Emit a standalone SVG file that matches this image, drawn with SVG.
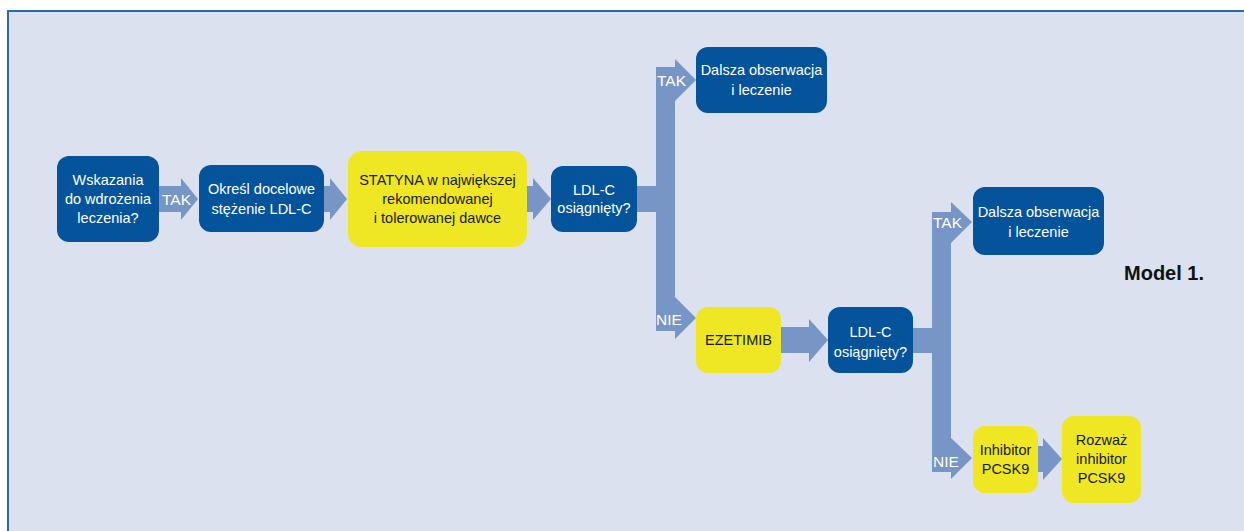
<svg xmlns="http://www.w3.org/2000/svg" width="1244" height="531" viewBox="0 0 1244 531">
<style>
.bg{fill:#dbe1ef;stroke:#2a6aad;stroke-width:2}
.blue{fill:#04539b}
.yel{fill:#efe724}
.conn{fill:#7896c5}
text{font-family:"Liberation Sans",Arial,sans-serif;font-size:14.5px;text-anchor:middle}
.w{fill:#ffffff}
.k{fill:#1a1a1a}
.lbl{fill:#ffffff;font-size:15.5px;text-anchor:start}
.title{fill:#111111;font-weight:bold;font-size:20px;text-anchor:start}
</style>
<rect width="1244" height="531" fill="#ffffff"/>
<rect class="bg" x="8" y="11" width="1260" height="540"/>
<g id="connectors">
<polygon class="conn" points="159,186 181,186 181,178 198,199 181,220 181,212 159,212"/>
<polygon class="conn" points="324,186 330,186 330,178 347,199 330,220 330,212 324,212"/>
<polygon class="conn" points="527,186 533,186 533,178 551,199 533,220 533,212 527,212"/>
<polygon class="conn" points="637,186 656,186 656,67 675,67 675,59 696,80 675,101 675,297 696,318 675,339 675,331 656,331 656,212 637,212"/>
<polygon class="conn" points="781,327 809,327 809,319 828,340 809,362 809,353 781,353"/>
<polygon class="conn" points="913,328 932,328 932,212 951,212 951,202 972,222 951,243 951,438 972,458 951,479 951,472 932,472 932,353 913,353"/>
<polygon class="conn" points="1038,446 1043,446 1043,438 1062,459 1043,480 1043,472 1038,472"/>
<text class="lbl" x="162" y="205" font-size="14.5">TAK</text>
<text class="lbl" x="657" y="86">TAK</text>
<text class="lbl" x="656" y="325">NIE</text>
<text class="lbl" x="933" y="228">TAK</text>
<text class="lbl" x="933" y="467">NIE</text>
</g>
<g id="n1">
<rect class="blue" x="57" y="156" width="102" height="86" rx="12"/>
<text class="w" x="108" y="185">Wskazania</text>
<text class="w" x="108" y="204">do wdrożenia</text>
<text class="w" x="108" y="223">leczenia?</text>
</g>
<g id="n2">
<rect class="blue" x="199" y="165" width="125" height="67" rx="12"/>
<text class="w" x="261.5" y="194">Określ docelowe</text>
<text class="w" x="261.5" y="214">stężenie LDL-C</text>
</g>
<g id="n3">
<rect class="yel" x="348" y="151" width="179" height="96" rx="14"/>
<text class="k" x="437.5" y="185" font-size="14">STATYNA w największej</text>
<text class="k" x="437.5" y="204" font-size="14">rekomendowanej</text>
<text class="k" x="437.5" y="223" font-size="14">i tolerowanej dawce</text>
</g>
<g id="n4">
<rect class="blue" x="551" y="166" width="86" height="66" rx="12"/>
<text class="w" x="594" y="195">LDL-C</text>
<text class="w" x="594" y="213">osiągnięty?</text>
</g>
<g id="n5">
<rect class="blue" x="696" y="47" width="131" height="66" rx="12"/>
<text class="w" x="761.5" y="75">Dalsza obserwacja</text>
<text class="w" x="761.5" y="95">i leczenie</text>
</g>
<g id="n6">
<rect class="yel" x="696" y="307" width="85" height="66" rx="12"/>
<text class="k" x="738.5" y="345" font-size="13.5">EZETIMIB</text>
</g>
<g id="n7">
<rect class="blue" x="828" y="307" width="85" height="66" rx="12"/>
<text class="w" x="870.5" y="337">LDL-C</text>
<text class="w" x="870.5" y="357">osiągnięty?</text>
</g>
<g id="n8">
<rect class="blue" x="973" y="187" width="131" height="68" rx="12"/>
<text class="w" x="1038.5" y="217">Dalsza obserwacja</text>
<text class="w" x="1038.5" y="237">i leczenie</text>
</g>
<g id="n9">
<rect class="yel" x="973" y="426" width="65" height="67" rx="12"/>
<text class="k" x="1005.5" y="455">Inhibitor</text>
<text class="k" x="1005.5" y="474">PCSK9</text>
</g>
<g id="n10">
<rect class="yel" x="1062" y="416" width="79" height="87" rx="12"/>
<text class="k" x="1101.5" y="445">Rozważ</text>
<text class="k" x="1101.5" y="464">inhibitor</text>
<text class="k" x="1101.5" y="483">PCSK9</text>
</g>
<text class="title" x="1124" y="280">Model 1.</text>
</svg>
